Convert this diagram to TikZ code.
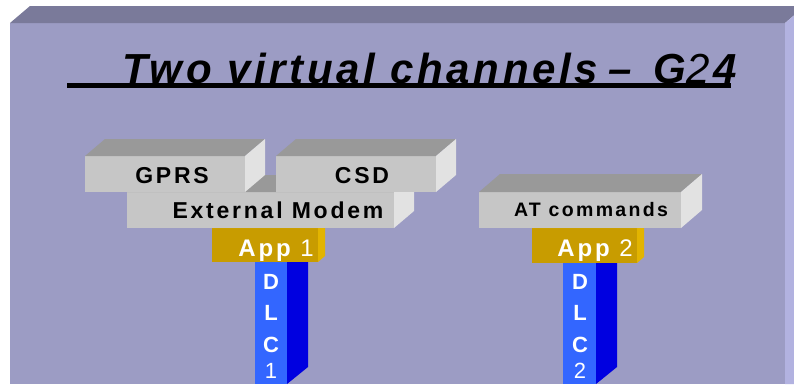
\documentclass[tikz,border=0pt]{standalone}
\usepackage{fontspec}
\setmainfont{Liberation Sans}
\newfontfamily\lsp{Liberation Sans}[LetterSpace=12]
\newfontfamily\lspt{Liberation Sans}[LetterSpace=8.7]
\definecolor{slfront}{RGB}{156,156,196}
\definecolor{sltop}{RGB}{122,122,154}
\definecolor{slside}{RGB}{178,178,224}
\definecolor{gyfront}{RGB}{198,198,198}
\definecolor{gytop}{RGB}{153,153,153}
\definecolor{gyside}{RGB}{226,226,226}
\definecolor{gdfront}{RGB}{200,156,0}
\definecolor{gdside}{RGB}{226,180,0}
\definecolor{blfront}{RGB}{51,102,255}
\definecolor{blside}{RGB}{0,0,224}
\newcommand\mybox[9]{%
  \fill[#7] (#1,#2) rectangle (#3,#4);
  \fill[#8] (#1,#2) -- ++(#5,#6) -- ({#3+#5},{#2+#6}) -- (#3,#2) -- cycle;
  \fill[#9] (#3,#2) -- ({#3+#5},{#2+#6}) -- ({#3+#5},{#4+#6}) -- (#3,#4) -- cycle;}
\tikzset{
  boxlabel/.style={anchor=base,inner sep=0pt,font=\lsp\bfseries\fontsize{23}{23}\selectfont,text=black},
  applabel/.style={anchor=base,inner sep=0pt,font=\lsp\fontsize{24}{24}\selectfont,text=white},
  dlclabel/.style={anchor=base,inner sep=0pt,font=\fontsize{22}{22}\selectfont,text=white}
}
\begin{document}
\begin{tikzpicture}[x=1pt,y=-1pt]
\useasboundingbox (0,0) rectangle (794,384);
\fill[white] (0,0) rectangle (794,384);
% main slab
\fill[slfront] (10,23) rectangle (785,384);
\fill[sltop] (10,23) -- (30,6) -- (794,6) -- (794,15.4) -- (785,23) -- cycle;
\fill[slside] (785,23) -- (794,15.4) -- (794,384) -- (785,384) -- cycle;
% title
\node[anchor=base west,inner sep=0pt] (title) at (122,83)
  {\fontsize{42}{42}\selectfont\bfseries\itshape\lspt Two virtual channels\hspace{10pt}–\hspace{22pt}G{\mdseries 2}\hspace{4pt}4};
\draw[line width=4.5pt] (67,85.5) -- (731,85.5);
% left stack
\mybox{255}{262}{287}{384}{21}{-17}{blfront}{blfront}{blside}
\mybox{212}{228}{318}{262}{7}{-6}{gdfront}{gdside}{gdside}
\mybox{127}{192}{394}{228}{20}{-17}{gyfront}{gytop}{gyside}
\mybox{85}{156}{245}{192}{20}{-17}{gyfront}{gytop}{gyside}
\mybox{276}{156}{436}{192}{20}{-17}{gyfront}{gytop}{gyside}
% right stack
\mybox{563}{263}{596}{384}{21}{-17}{blfront}{blfront}{blside}
\mybox{532}{228}{637}{263}{7}{-6}{gdfront}{gdside}{gdside}
\mybox{479}{192}{681}{228}{21}{-18}{gyfront}{gytop}{gyside}
% labels
\node[boxlabel] (gprs) at (172,183) {GPRS};
\node[boxlabel] (csd) at (362,183) {CSD};
\node[boxlabel] (modem) at (278,218) {External Modem};
\node[boxlabel,font=\lsp\bfseries\fontsize{19.5}{19.5}\selectfont] (at) at (591,216) {AT commands};
\node[applabel] (app1) at (276,256) {{\bfseries App} 1};
\node[applabel] (app2) at (595,256) {{\bfseries App} 2};
\node[dlclabel] (d1) at (271,289) {\bfseries D};
\node[dlclabel] (l1) at (271,320) {\bfseries L};
\node[dlclabel] (c1) at (271,352) {\bfseries C};
\node[dlclabel] (n1) at (271,378) {1};
\node[dlclabel] (d2) at (580,289) {\bfseries D};
\node[dlclabel] (l2) at (580,320) {\bfseries L};
\node[dlclabel] (c2) at (580,352) {\bfseries C};
\node[dlclabel] (n2) at (580,378) {2};
\end{tikzpicture}
\end{document}
